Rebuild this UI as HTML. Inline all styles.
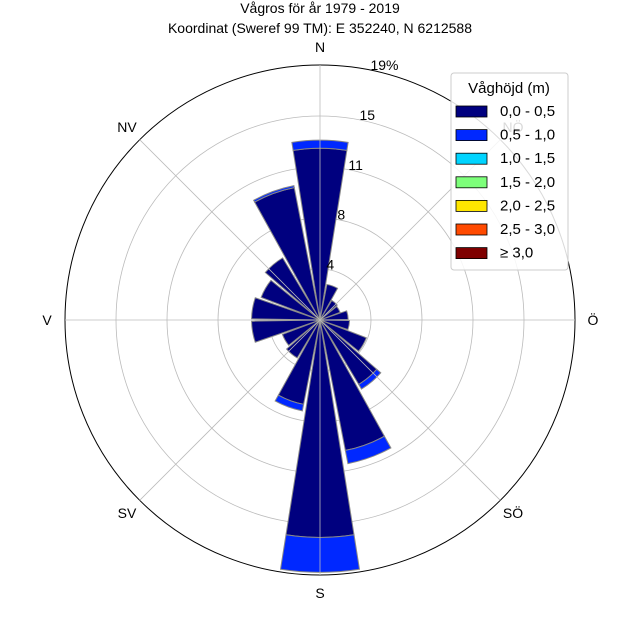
<!DOCTYPE html>
<html><head><meta charset="utf-8">
<style>
html,body{margin:0;padding:0;background:#fff;}
svg{display:block;font-family:"Liberation Sans","DejaVu Sans",sans-serif;}
</style></head>
<body>
<svg id="chart" width="640" height="640" viewBox="0 0 640 640" xmlns="http://www.w3.org/2000/svg">
<text x="320" y="13" text-anchor="middle" font-size="14" fill="#000">Vågros för år 1979 - 2019</text>
<text x="320" y="33" text-anchor="middle" font-size="14" fill="#000">Koordinat (Sweref 99 TM): E 352240, N 6212588</text>
<g id="grid"></g>
<g id="bars"></g>
<g id="gridtop"></g>
<g id="labels"></g>
<g>
 <rect x="451" y="73" width="117" height="197" rx="3" fill="#fff" fill-opacity="0.85" stroke="#ccc"/>
 <text x="509" y="93" text-anchor="middle" font-size="15">Våghöjd (m)</text>
 <g id="legendItems"></g>
</g>
</svg>
<script>
const directions = [0,20,40,60,80,100,120,140,160,180,200,220,240,260,280,300,320,340];
const band0 = [12.8,2.7,1.7,1.6,2.1,2.2,3.7,5.6,9.9,16.2,6.4,3.3,3.0,5.1,5.1,4.7,5.4,10.05];
const band1 = [0.6,0,0,0,0,0,0,0.4,1.0,2.6,0.5,0,0,0,0,0,0,0.15];
const ringValues = [3.8,7.6,11.4,15.2,19];
const ringLabels = ["4","8","11","15","19%"];
const compassAngles = [0,45,90,135,180,225,270,315];
const compassNames = ["N","NÖ","Ö","SÖ","S","SV","V","NV"];
const legendLabels = ["0,0 - 0,5","0,5 - 1,0","1,0 - 1,5","1,5 - 2,0","2,0 - 2,5","2,5 - 3,0","≥ 3,0"];
const legendColors = ["#00007f","#0028ff","#00d4ff","#7dff7a","#ffe600","#ff4a00","#7f0000"];

const NS="http://www.w3.org/2000/svg";
const cx=320, cy=320, R=255, maxV=19;
const rScale=v=>v/maxV*R;
function pt(deg,r){const a=deg*Math.PI/180;return [cx+r*Math.sin(a), cy-r*Math.cos(a)];}
function mk(tag,attrs,parent){const e=document.createElementNS(NS,tag);for(const k in attrs)e.setAttribute(k,attrs[k]);parent.appendChild(e);return e;}

const grid=document.getElementById('grid');
const gridtop=document.getElementById('gridtop');
ringValues.forEach((v,i)=>{
  const c=mk('circle',{cx:cx,cy:cy,r:rScale(v),fill:'none',stroke:i===ringValues.length-1?'#000':'#bbb','stroke-width':i===ringValues.length-1?1:0.8},i===ringValues.length-1?gridtop:grid);
  
  
});
compassAngles.forEach(a=>{
  const p=pt(a,R);
  const l=mk('line',{x1:cx,y1:cy,x2:p[0],y2:p[1],stroke:'#bbb','stroke-width':0.8},gridtop);
  
  
});

const bars=document.getElementById('bars');
function wedge(deg,r0,r1,color){
  const w=9;
  const a=pt(deg-w,r0),b=pt(deg-w,r1),c=pt(deg+w,r1),d=pt(deg+w,r0);
  const dstr=`M${a[0]},${a[1]} L${b[0]},${b[1]} A${r1},${r1} 0 0 1 ${c[0]},${c[1]} L${d[0]},${d[1]} A${r0},${r0} 0 0 0 ${a[0]},${a[1]} Z`;
  return mk('path',{d:dstr,fill:color,stroke:'#888','stroke-width':1},bars);
}
directions.forEach((d,i)=>{
  const w0=wedge(d,0,rScale(band0[i]),legendColors[0]);
  
  
  if(band1[i]>0){
    const w1=wedge(d,rScale(band0[i]),rScale(band0[i]+band1[i]),legendColors[1]);
    
    
  }
});

const labels=document.getElementById('labels');
ringValues.forEach((v,i)=>{
  const p=pt(12.5,rScale(v)+6);
  const t=mk('text',{x:p[0]-6,y:p[1]+5,'font-size':14,fill:'#000'},labels);
  t.textContent=ringLabels[i];
  
  
});
compassAngles.forEach((a,i)=>{
  const p=pt(a,273);
  const t=mk('text',{x:p[0],y:p[1]+5,'font-size':14,'text-anchor':'middle',fill:'#000'},labels);
  t.textContent=compassNames[i];
  
  
});

const li=document.getElementById('legendItems');
legendLabels.forEach((lab,i)=>{
  const y=111+i*23.6;
  const r=mk('rect',{x:456,y:y-5,width:31,height:11,fill:legendColors[i],stroke:'#000','stroke-width':0.8},li);
  
  
  const t=mk('text',{x:500,y:y+5,'font-size':15,fill:'#000'},li);
  t.textContent=lab;
  
  
});
</script>
</body></html>
